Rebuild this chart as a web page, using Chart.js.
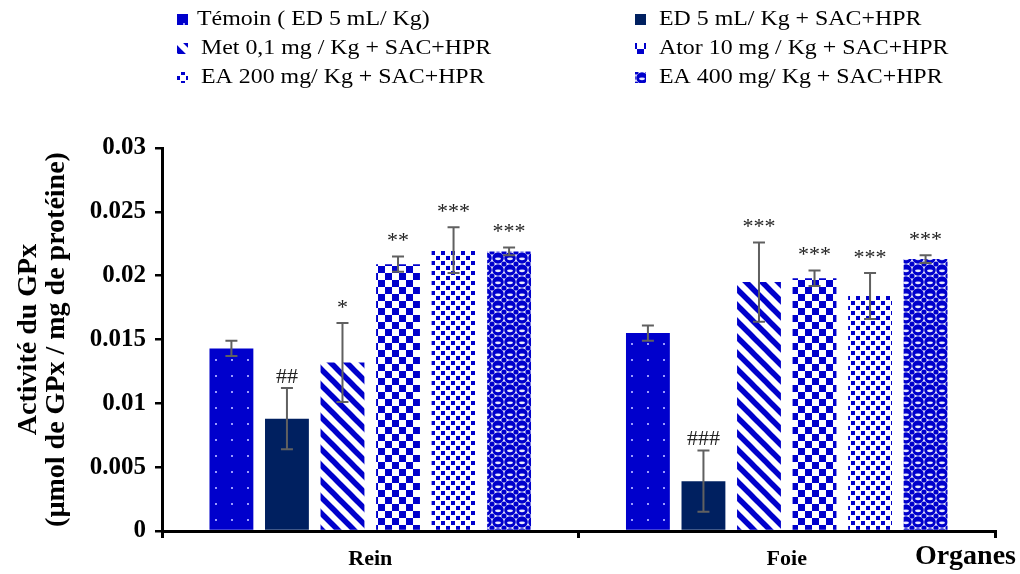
<!DOCTYPE html>
<html>
<head>
<meta charset="utf-8">
<script src="https://cdn.jsdelivr.net/npm/chart.js@4"></script>
<style>
  body { margin: 0; background: #fff; }
  #wrap { width: 1020px; height: 574px; position: relative; }
</style>
</head>
<body>
<div id="wrap"><canvas id="gpx-chart"></canvas></div>
<script>
// données
var categories = ['Rein', 'Foie'];
var groupLabels = [
    'Témoin ( ED 5 mL/ Kg)',
    'ED 5 mL/ Kg + SAC+HPR',
    'Met 0,1 mg / Kg + SAC+HPR',
    'Ator 10 mg / Kg + SAC+HPR',
    'EA 200 mg/ Kg + SAC+HPR',
    'EA 400 mg/ Kg + SAC+HPR'
];
var temoin = [0.0143, 0.0155];
var ed = [0.0088, 0.0039];
var met = [0.0132, 0.0195];
var ator = [0.0209, 0.0198];
var ea200 = [0.0220, 0.0184];
var ea400 = [0.0219, 0.0213];
var temoinErr = [0.0006, 0.0006];
var edErr = [0.0024, 0.0024];
var metErr = [0.0031, 0.0031];
var atorErr = [0.0006, 0.0006];
var ea200Err = [0.0018, 0.0018];
var ea400Err = [0.0003, 0.0003];
var temoinSig = ['', ''];
var edSig = ['##', '###'];
var metSig = ['*', '***'];
var atorSig = ['**', '***'];
var ea200Sig = ['***', '***'];
var ea400Sig = ['***', '***'];
var yTicks = [0, 0.005, 0.01, 0.015, 0.02, 0.025, 0.03];

var seriesValues = [temoin, ed, met, ator, ea200, ea400];
var seriesErrors = [temoinErr, edErr, metErr, atorErr, ea200Err, ea400Err];
var seriesSig = [temoinSig, edSig, metSig, atorSig, ea200Sig, ea400Sig];

var BLUE = '#0000cc';
var ctx = document.getElementById('gpx-chart').getContext('2d');

function makePattern(size, draw) {
    var c = document.createElement('canvas');
    c.width = size; c.height = size;
    var g = c.getContext('2d');
    draw(g, size);
    return ctx.createPattern(c, 'repeat');
}

var fills = [
    // points
    makePattern(16, function (g) {
        g.fillStyle = BLUE; g.fillRect(0, 0, 16, 16);
        g.fillStyle = '#9a9aff'; g.fillRect(7, 7, 2, 2);
    }),
    '#002060',
    // rayures diagonales
    makePattern(16, function (g, s) {
        g.fillStyle = '#fff'; g.fillRect(0, 0, s, s);
        g.strokeStyle = BLUE; g.lineWidth = 5.5;
        for (var k = -1; k <= 1; k++) {
            g.beginPath(); g.moveTo(k * s - 3, -3); g.lineTo(k * s + s + 3, s + 3); g.stroke();
        }
    }),
    // damier
    makePattern(14, function (g) {
        g.fillStyle = '#fff'; g.fillRect(0, 0, 14, 14);
        g.fillStyle = BLUE; g.fillRect(0, 0, 7, 7); g.fillRect(7, 7, 7, 7);
    }),
    // confettis
    makePattern(10, function (g) {
        g.fillStyle = '#fff'; g.fillRect(0, 0, 10, 10);
        g.fillStyle = BLUE;
        g.fillRect(1, 1, 4, 4); g.fillRect(6, 6, 4, 4);
    }),
    // sphères
    makePattern(12, function (g) {
        g.fillStyle = '#fff'; g.fillRect(0, 0, 12, 12);
        g.fillStyle = BLUE;
        g.beginPath(); g.arc(6, 6, 5.8, 0, Math.PI * 2); g.fill();
        [[0, 0], [12, 0], [0, 12], [12, 12]].forEach(function (p) {
            g.beginPath(); g.arc(p[0], p[1], 2.6, 0, Math.PI * 2); g.fill();
        });
        g.fillStyle = '#e8e8ff';
        g.beginPath(); g.ellipse(6, 6.8, 3, 1.4, 0, 0, Math.PI * 2); g.fill();
    })
];

var datasets = groupLabels.map(function (label, i) {
    return {
        label: label,
        data: seriesValues[i],
        backgroundColor: fills[i],
        borderWidth: 0
    };
});

var extras = {
    id: 'extras',
    afterDatasetsDraw: function (chart) {
        var c = chart.ctx;
        var y = chart.scales.y;
        c.save();
        chart.data.datasets.forEach(function (ds, i) {
            chart.getDatasetMeta(i).data.forEach(function (bar, j) {
                var v = ds.data[j], e = seriesErrors[i][j];
                var top = y.getPixelForValue(v + e), bot = y.getPixelForValue(v - e);
                c.strokeStyle = '#606060';
                c.lineWidth = 2;
                c.beginPath();
                c.moveTo(bar.x, top); c.lineTo(bar.x, bot);
                c.moveTo(bar.x - 6, top); c.lineTo(bar.x + 6, top);
                c.moveTo(bar.x - 6, bot); c.lineTo(bar.x + 6, bot);
                c.stroke();
                var s = seriesSig[i][j];
                if (s) {
                    c.fillStyle = '#222';
                    c.font = '22px "Liberation Serif"';
                    c.textAlign = 'center';
                    c.textBaseline = 'bottom';
                    c.fillText(s, bar.x, top - (s.charAt(0) === '#' ? 0 : 4));
                }
            });
        });
        c.restore();
    },
    afterDraw: function (chart) {
        var c = chart.ctx;
        c.save();
        c.font = '22px "Liberation Serif"';
        c.textBaseline = 'middle';
        c.textAlign = 'left';
        var rowsY = [19, 48, 77];
        var colX = [177, 635];
        chart.data.datasets.forEach(function (ds, i) {
            var col = i % 2, row = Math.floor(i / 2);
            var bx = colX[col], by = rowsY[row];
            c.fillStyle = ds.backgroundColor;
            c.fillRect(bx, by - 5, 11, 11);
            c.fillStyle = '#000';
            var tx = (col === 0 && row === 0) ? bx + 20 : bx + 24;
            c.save();
            c.translate(tx, by);
            c.scale(1.085, 1);
            c.fillText(ds.label, 0, 0);
            c.restore();
        });
        c.font = 'bold 28px "Liberation Serif"';
        c.textAlign = 'right';
        c.fillText('Organes', 1016, 557);
        c.restore();
    }
};

var myChart = new Chart(ctx, {
    type: 'bar',
    data: { labels: categories, datasets: datasets },
    options: {
        responsive: true,
        maintainAspectRatio: false,
        animation: false,
        layout: { padding: { top: 148, right: 25, left: 0, bottom: 0 } },
        datasets: { bar: { categoryPercentage: 0.8, barPercentage: 0.79 } },
        plugins: {
            legend: { display: false },
            tooltip: { enabled: false }
        },
        scales: {
            x: {
                grid: { display: true, drawOnChartArea: false, offset: true, color: '#000', lineWidth: 3, tickLength: 7 },
                border: { color: '#000', width: 3 },
                ticks: { color: '#000', padding: 8, font: { family: 'Liberation Serif', size: 22, weight: 'bold' } },
                afterFit: function (scale) { scale.height = 43; }
            },
            y: {
                min: 0,
                max: 0.03,
                afterBuildTicks: function (scale) {
                    scale.ticks = yTicks.map(function (v) { return { value: v }; });
                },
                grid: { display: true, drawOnChartArea: false, color: '#000', lineWidth: 2.5, tickLength: 7 },
                border: { color: '#000', width: 3 },
                ticks: {
                    color: '#000', padding: 9,
                    font: { family: 'Liberation Serif', size: 25, weight: 'bold' },
                    callback: function (v) { return String(Number(v.toFixed(3))); }
                },
                title: {
                    display: true,
                    text: ['Activité du GPx', '(µmol de GPx / mg de protéine)'],
                    color: '#000',
                    padding: { top: 15, bottom: 0 },
                    font: { family: 'Liberation Serif', size: 28, weight: 'bold', lineHeight: 1.0 }
                },
                afterFit: function (scale) { scale.width = 162; }
            }
        }
    },
    plugins: [extras]
});
</script>
</body>
</html>
